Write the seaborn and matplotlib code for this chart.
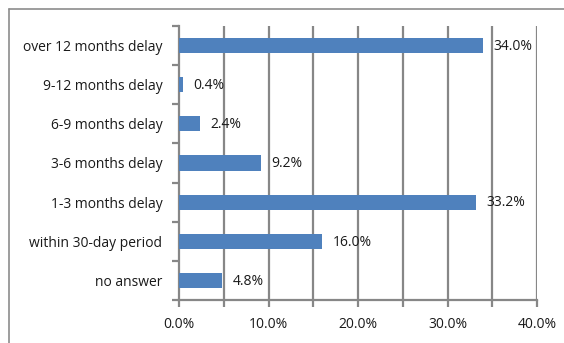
import matplotlib
matplotlib.use("Agg")
import matplotlib.pyplot as plt
import seaborn as sns
import pandas as pd
from matplotlib.lines import Line2D
from matplotlib.ticker import MultipleLocator, FuncFormatter

categories = ["over 12 months delay", "9-12 months delay", "6-9 months delay",
              "3-6 months delay", "1-3 months delay", "within 30-day period",
              "no answer"]
values = [34.0, 0.4, 2.4, 9.2, 33.2, 16.0, 4.8]
x_ticks = [0, 10, 20, 30, 40]

df = pd.DataFrame({"category": categories, "share": values})

sns.set_theme(style="white")
plt.rcParams["font.family"] = ["Open Sans", "DejaVu Sans"]

fig = plt.figure(figsize=(5.64, 3.43), dpi=100)
ax = fig.add_axes([179 / 564, 1 - 300 / 343, (537 - 179) / 564, (300 - 26) / 343])

sns.barplot(data=df, y="category", x="share", orient="h", color="#4F81BD",
            saturation=1, width=0.39, linewidth=0, ax=ax, zorder=3)

ax.set_xlim(0, 40)
ax.set_ylim(len(categories) - 0.5, -0.5)
ax.set_xlabel("")
ax.set_ylabel("")

# vertical gridlines every 5%
ax.xaxis.set_minor_locator(MultipleLocator(5))
ax.set_xticks(x_ticks)
ax.xaxis.set_major_formatter(FuncFormatter(lambda v, p: f"{v:.1f}%"))
ax.grid(False)
for g in range(5, 45, 5):
    ax.axvline(g, color="#878787", lw=1.6, zorder=1)

for s in ["top", "right"]:
    ax.spines[s].set_visible(False)
for s in ["left", "bottom"]:
    ax.spines[s].set_color("#878787")
    ax.spines[s].set_linewidth(1.6)

ax.tick_params(axis="x", which="both", direction="out", length=5, width=1.6,
               color="#878787", bottom=True, labelsize=10, pad=7,
               labelcolor="#1a1a1a")
ax.tick_params(axis="y", which="major", length=0, labelsize=10, pad=12,
               labelcolor="#1a1a1a")
# category boundary ticks on the y axis
ax.set_yticks([i - 0.5 for i in range(len(categories) + 1)], minor=True)
ax.tick_params(axis="y", which="minor", direction="out", length=5, width=1.6,
               color="#878787", left=True)

for i, v in enumerate(values):
    ax.text(v + 1.15, i + 0.02, f"{v:.1f}%", va="center", ha="left",
            fontsize=10, color="#1a1a1a", zorder=4)

# chart frame (left and top edges)
fig.add_artist(Line2D([8.5 / 564, 8.5 / 564], [0, 1 - 8.5 / 343],
                      transform=fig.transFigure, color="#8C8C8C", lw=1.2))
fig.add_artist(Line2D([8.5 / 564, 1], [1 - 8.5 / 343, 1 - 8.5 / 343],
                      transform=fig.transFigure, color="#8C8C8C", lw=1.2))

fig.savefig("out.png", dpi=100)
